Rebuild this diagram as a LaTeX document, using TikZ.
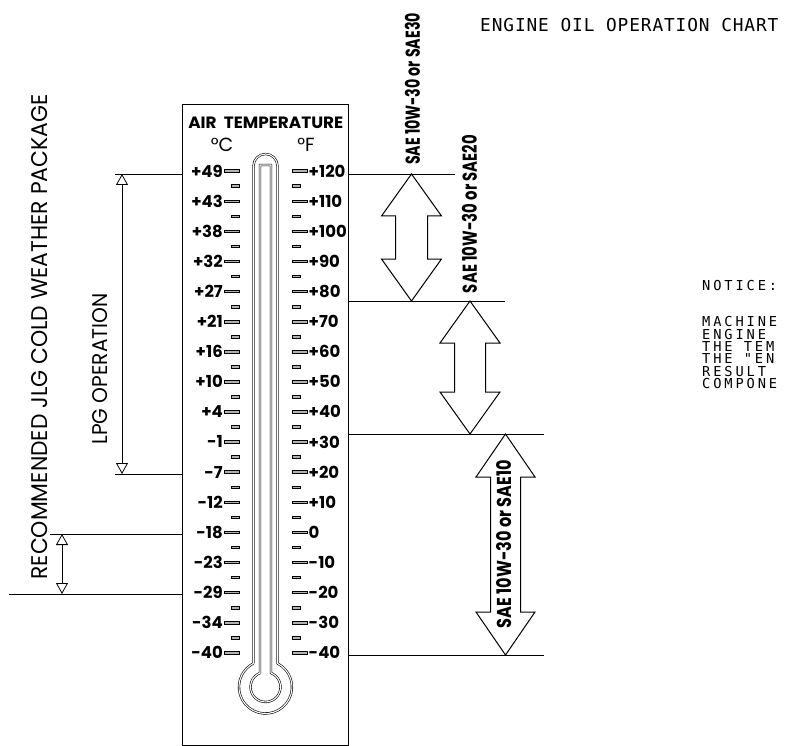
\documentclass[tikz,border=0pt]{standalone}
\usepackage{fontspec}
\usepackage{graphicx}
\setmainfont{Poppins}
\newfontfamily\geo{Poppins}
\newfontfamily\cadA[LetterSpace=5,Ligatures=TeXOff]{DejaVu Sans Mono}
\newfontfamily\cadB[LetterSpace=21,Ligatures=TeXOff]{DejaVu Sans Mono}
\usetikzlibrary{arrows.meta}
\newcommand{\blockarr}[7]{%
  \draw[blockarrow] (#2,#3) coordinate (#1-top) -- ({#2+#5},{#3+#7}) -- ({#2+#6},{#3+#7})
    -- ({#2+#6},{#4-#7}) -- ({#2+#5},{#4-#7}) -- (#2,#4) coordinate (#1-bot)
    -- ({#2-#5},{#4-#7}) -- ({#2-#6},{#4-#7}) -- ({#2-#6},{#3+#7}) -- ({#2-#5},{#3+#7}) -- cycle;}
\tikzset{
  thin line/.style={line width=0.9pt},
  tickbar/.style={draw, fill=gray!60, line width=0.5pt},
  clab/.style={anchor=east, inner sep=0pt, font=\geo\bfseries\fontsize{16.5}{16.5}\selectfont},
  flab/.style={anchor=west, inner sep=0pt, font=\geo\bfseries\fontsize{16.5}{16.5}\selectfont},
  tube/.style={draw, line width=0.6pt, double=white, double distance=1.1pt},
  blockarrow/.style={draw, line width=1pt, line join=miter},
  dimarrow/.style={{Triangle[open,length=11pt,width=12pt]}-{Triangle[open,length=11pt,width=12pt]}, line width=0.8pt},
  vtext/.style={rotate=90, inner sep=0pt},
  cadtitle/.style={anchor=base west, inner sep=0pt, font=\cadA\fontsize{17.8}{17.8}\selectfont},
  cadnote/.style={anchor=base west, inner sep=0pt, font=\cadB\fontsize{13.7}{13.7}\selectfont}
}
\begin{document}
\begin{tikzpicture}[x=1pt,y=-1pt]
\useasboundingbox (0,0) rectangle (787,746);
% thermometer box
\draw[thin line] (182,104) rectangle (348,745.5);
\node[inner sep=0pt] (hdr) at (265.8,122.5) {\resizebox{155pt}{11.5pt}{\geo\bfseries AIR\ \ TEMPERATURE}};
\node[inner sep=0pt] (degc) at (222,144.5) {\geo\fontsize{19}{19}\selectfont °C};
\node[inner sep=0pt] (degf) at (306,144.5) {\geo\fontsize{19}{19}\selectfont °F};
% scale
\foreach \c/\f [count=\i from 0] in {+49/+120,+43/+110,+38/+100,+32/+90,+27/+80,+21/+70,+16/+60,+10/+50,+4/+40,-1/+30,-7/+20,-12/+10,-18/0,-23/-10,-29/-20,-34/-30,-40/-40}{
  \pgfmathsetmacro{\yy}{171+30.1*\i}
  \node[clab] (c\i) at (223,\yy) {\c};
  \node[flab] (f\i) at (308.5,\yy) {\f};
  \draw[tickbar] (224,{\yy-1.3}) rectangle (239,{\yy+1.3});
  \draw[tickbar] (292,{\yy-1.3}) rectangle (307,{\yy+1.3});
}
\foreach \i in {0,...,15}{
  \pgfmathsetmacro{\ym}{171+30.1*\i+15.05}
  \draw[tickbar] (231,{\ym-1.3}) rectangle (239,{\ym+1.3});
  \draw[tickbar] (292,{\ym-1.3}) rectangle (300,{\ym+1.3});
}
% tube and bulb
\draw[tube] (253.5,663.4) -- (253.5,166) arc[start angle=180, end angle=360, radius=12]
  -- (277.5,663.4) arc[start angle=-63, end angle=243, radius=26.5];
\draw[tube] (260,673) -- (260,165) -- (271,165) -- (271,673)
  arc[start angle=-68.55, end angle=248.55, radius=15];
% right reference lines
\coordinate (r1a) at (348,174); \coordinate (r1b) at (455,174);
\coordinate (r2a) at (348,301); \coordinate (r2b) at (505,301);
\coordinate (r3a) at (348,434); \coordinate (r3b) at (544,434);
\coordinate (r4a) at (348,655); \coordinate (r4b) at (544,655);
\draw[thin line] (r1a) -- (r1b);
\draw[thin line] (r2a) -- (r2b);
\draw[thin line] (r3a) -- (r3b);
\draw[thin line] (r4a) -- (r4b);
% left reference lines
\coordinate (l1a) at (115,174); \coordinate (l1b) at (182,174);
\coordinate (l2a) at (115,474); \coordinate (l2b) at (182,474);
\coordinate (l3a) at (50,534); \coordinate (l3b) at (182,534);
\coordinate (l4a) at (9,594); \coordinate (l4b) at (182,594);
\draw[thin line] (l1a) -- (l1b);
\draw[thin line] (l2a) -- (l2b);
\draw[thin line] (l3a) -- (l3b);
\draw[thin line] (l4a) -- (l4b);
% dimension arrows
\coordinate (lpgt) at (122,174); \coordinate (lpgb) at (122,474);
\coordinate (cwt) at (62,534); \coordinate (cwb) at (62,594);
\draw[dimarrow] (lpgt) -- (lpgb);
\draw[dimarrow] (cwt) -- (cwb);
% block arrows
\blockarr{a1}{411.5}{174}{301}{30}{16}{42}
\blockarr{a2}{470}{301}{434}{30}{15.5}{42}
\blockarr{a3}{505.5}{434}{655}{29.5}{15}{43}
% vertical texts
\node[vtext] (t1) at (412.5,89) {\resizebox{152pt}{15pt}{\geo\bfseries SAE 10W-30 or SAE30}};
\node[vtext] (t2) at (469.5,214) {\resizebox{158pt}{15pt}{\geo\bfseries SAE 10W-30 or SAE20}};
\node[vtext] (t3) at (504.5,544) {\resizebox{168pt}{15pt}{\geo\bfseries SAE 10W-30 or SAE10}};
\node[vtext] (lpg) at (100,369) {\resizebox{151pt}{15pt}{\geo LPG OPERATION}};
\node[vtext] (rec) at (40,337) {\resizebox{485pt}{16pt}{\geo RECOMMENDED JLG COLD WEATHER PACKAGE}};
% title and notice
\node[cadtitle] (title) at (480,32) {ENGINE OIL OPERATION CHART};
\node[cadnote] (n0) at (702,290) {NOTICE:};
\node[cadnote] (n1) at (702,326.7) {MACHINE};
\node[cadnote] (n2) at (702,339) {ENGINE};
\node[cadnote] (n3) at (702,351.3) {THE TEM};
\node[cadnote] (n4) at (702,363.6) {THE "EN};
\node[cadnote] (n5) at (702,376) {RESULT};
\node[cadnote] (n6) at (702,388.3) {COMPONE};
\end{tikzpicture}
\end{document}
